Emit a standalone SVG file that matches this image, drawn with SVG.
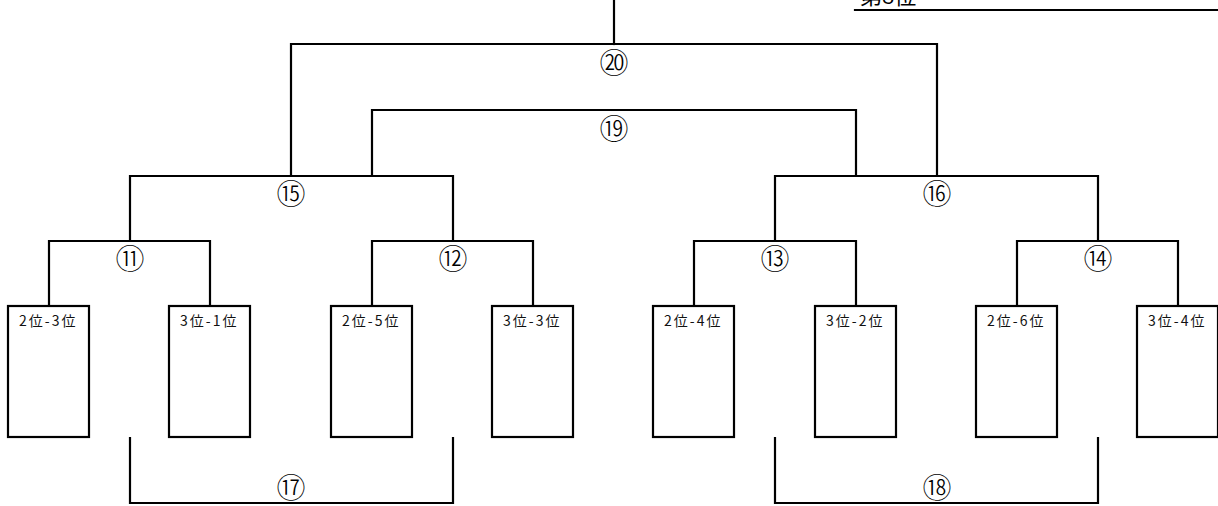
<svg xmlns="http://www.w3.org/2000/svg" width="1218" height="506" viewBox="0 0 1218 506">
<style>
.ln{fill:none;stroke:#000;stroke-width:2.2;stroke-linecap:square}
.bx{fill:#fff;stroke:#000;stroke-width:2.2}
.lb{font-family:"Noto Sans CJK JP","Noto Sans CJK SC",sans-serif;font-size:14px;font-weight:400;fill:#111;letter-spacing:2px}
.cn{font-family:"Noto Sans CJK JP","Noto Sans CJK SC",sans-serif;font-size:29px;font-weight:300;fill:#000;text-anchor:middle;dominant-baseline:central}
.tt{font-family:"Noto Sans CJK JP","Noto Sans CJK SC",sans-serif;font-size:22px;fill:#000}
</style>
<rect width="1218" height="506" fill="#fff"/>
<g id="title">
<text class="tt" x="860" y="4">第8位</text>
<line class="ln" x1="855" y1="10" x2="1218" y2="10"/>
</g>
<g id="connectors">
<path class="ln" d="M614 0V44"/>
<path class="ln" d="M291 176V44H937V176"/>
<path class="ln" d="M372 176V110H856V176"/>
<path class="ln" d="M130 241V176H453V241"/>
<path class="ln" d="M775 241V176H1098V241"/>
<path class="ln" d="M49 306V241H210V306"/>
<path class="ln" d="M372 306V241H533V306"/>
<path class="ln" d="M694 306V241H856V306"/>
<path class="ln" d="M1017 306V241H1178V306"/>
<path class="ln" d="M130 438V503H453V438"/>
<path class="ln" d="M775 438V503H1098V438"/>
</g>
<g id="match-labels">
<text class="cn" x="614" y="61">⑳</text>
<text class="cn" x="614" y="127">⑲</text>
<text class="cn" x="291" y="192">⑮</text>
<text class="cn" x="937" y="192">⑯</text>
<text class="cn" x="130" y="257">⑪</text>
<text class="cn" x="453" y="257">⑫</text>
<text class="cn" x="775" y="257">⑬</text>
<text class="cn" x="1098" y="257">⑭</text>
<text class="cn" x="291" y="486">⑰</text>
<text class="cn" x="937" y="486">⑱</text>
</g>
<g id="team1"><rect class="bx" x="8" y="306" width="81" height="131"/><text class="lb" x="19" y="326">2位-3位</text></g>
<g id="team2"><rect class="bx" x="169" y="306" width="81" height="131"/><text class="lb" x="180" y="326">3位-1位</text></g>
<g id="team3"><rect class="bx" x="331" y="306" width="81" height="131"/><text class="lb" x="342" y="326">2位-5位</text></g>
<g id="team4"><rect class="bx" x="492" y="306" width="81" height="131"/><text class="lb" x="503" y="326">3位-3位</text></g>
<g id="team5"><rect class="bx" x="653" y="306" width="81" height="131"/><text class="lb" x="664" y="326">2位-4位</text></g>
<g id="team6"><rect class="bx" x="815" y="306" width="81" height="131"/><text class="lb" x="826" y="326">3位-2位</text></g>
<g id="team7"><rect class="bx" x="976" y="306" width="81" height="131"/><text class="lb" x="987" y="326">2位-6位</text></g>
<g id="team8"><rect class="bx" x="1137" y="306" width="81" height="131"/><text class="lb" x="1148" y="326">3位-4位</text></g>
</svg>
